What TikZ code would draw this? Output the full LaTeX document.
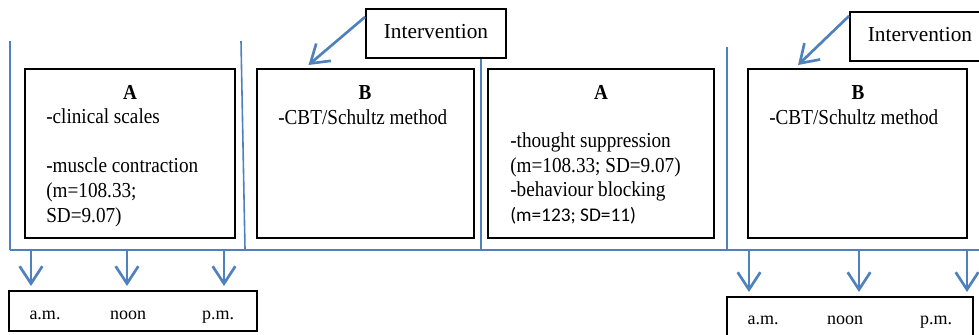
\documentclass[tikz,border=0pt]{standalone}
\usepackage{fontspec}
\setmainfont{Liberation Serif}
\newfontfamily\cond{Liberation Serif}[FakeStretch=0.9]
\newfontfamily\calib{Carlito}
\usetikzlibrary{arrows.meta,fit}
\definecolor{tl}{RGB}{79,129,189}
\begin{document}
\begin{tikzpicture}[x=0.75pt,y=-0.75pt,
  box/.style={draw=black,line width=1.5pt,rectangle,inner sep=0pt},
  txt/.style={anchor=base west,inner sep=0pt,font=\cond\fontsize{16}{18.75}\selectfont},
  ttl/.style={anchor=base,inner sep=0pt,font=\cond\bfseries\fontsize{16}{18.75}\selectfont},
  itxt/.style={anchor=base,inner sep=0pt,font=\fontsize{16}{19}\selectfont},
  btxt/.style={anchor=base,inner sep=0pt,font=\fontsize{13.5}{16}\selectfont},
  tline/.style={draw=tl,line width=1.2pt},
  tarrow/.style={draw=tl,line width=2pt,-{Straight Barb[length=13pt,width=17pt]}}]
\clip (0,0) rectangle (979,335);
\fill[white] (0,0) rectangle (979,335);

% timeline
\coordinate (h0) at (10,250);
\coordinate (h1) at (990,250);
\draw[tline] (h0) -- (h1);
\coordinate (v1t) at (10,41);
\coordinate (v2t) at (241,41);   \coordinate (v2b) at (245,249);
\coordinate (v3t) at (481,58);   \coordinate (v3b) at (481,249);
\coordinate (v4t) at (727,47);   \coordinate (v4b) at (727,249);
\draw[tline] (v1t) -- (h0);
\draw[tline] (v2t) -- (v2b);
\draw[tline] (v3t) -- (v3b);
\draw[tline] (v4t) -- (v4b);

% phase boxes
\node[box,fit={(25,69)(235,238)}] (a1) {};
\node[box,fit={(257,69)(474,238)}] (b1) {};
\node[box,fit={(488,69)(714,238)}] (a2) {};
\node[box,fit={(748,69)(967,238)}] (b2) {};

\node[ttl] (a1t) at (130,99) {A};
\node[txt] (a1x) at (46,123) {-clinical scales};
\node[txt] (a1y) at (46,172) {-muscle contraction};
\node[txt] (a1z) at (46,197) {(m=108.33;};
\node[txt] (a1w) at (46,222) {SD=9.07)};

\node[ttl] (b1t) at (365,99) {B};
\node[txt] (b1x) at (278,124) {-CBT/Schultz method};

\node[ttl] (a2t) at (601,99) {A};
\node[txt] (a2x) at (510,147) {-thought suppression};
\node[txt] (a2y) at (510,172) {(m=108.33; SD=9.07)};
\node[txt] (a2z) at (510,196) {-behaviour blocking};
\node[anchor=base west,inner sep=0pt,font=\calib\fontsize{14.5}{17}\selectfont] (a2w) at (510,221) {(m=123; SD=11)};

\node[ttl] (b2t) at (858,99) {B};
\node[txt] (b2x) at (769,124) {-CBT/Schultz method};

% intervention boxes
\node[box,fit={(366,9)(506,58)}] (i1) {};
\node[itxt] (i1t) at (436,39) {Intervention};
\node[box,fit={(850,12)(990,61)}] (i2) {};
\node[itxt] (i2t) at (920,42) {Intervention};

\draw[tarrow] ([yshift=-6.75pt]i1.north west) -- ([xshift=-42.75pt,yshift=2.25pt]b1.north);
\draw[tarrow] ([yshift=-3.75pt]i2.north west) -- ([xshift=-44.6pt,yshift=2.25pt]b2.north);

% bottom boxes
\node[box,fit={(9,291)(257,331)}] (bt1) {};
\node[btxt] (am1) at (45,319) {a.m.};
\node[btxt] (no1) at (128,319) {noon};
\node[btxt] (pm1) at (218,319) {p.m.};

\node[box,fit={(727,297)(973,345)}] (bt2) {};
\node[btxt] (am2) at (763,324) {a.m.};
\node[btxt] (no2) at (845,324) {noon};
\node[btxt] (pm2) at (936,324) {p.m.};

% down arrows
\coordinate (d1) at (31,250);
\coordinate (d2) at (127,250);
\coordinate (d3) at (224,250);
\coordinate (d4) at (749,250);
\coordinate (d5) at (859,250);
\coordinate (d6) at (967,250);
\foreach \d in {d1,d2,d3}{\draw[tarrow,shorten >=3pt] (\d) -- (\d |- bt1.north);}
\foreach \d in {d4,d5,d6}{\draw[tarrow,shorten >=3pt] (\d) -- (\d |- bt2.north);}
\end{tikzpicture}
\end{document}
